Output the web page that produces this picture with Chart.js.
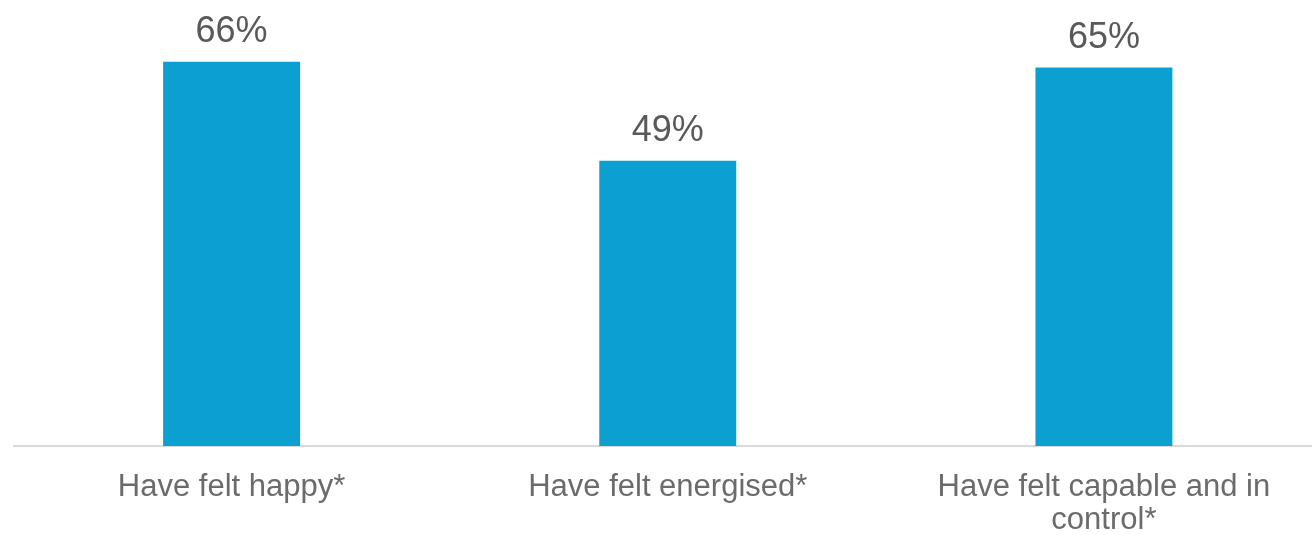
<!DOCTYPE html>
<html lang="en">
<head>
  <meta charset="UTF-8" />
  <title>Felt</title>
  <script src="https://cdn.jsdelivr.net/npm/chart.js"></script>
  <style>
    html, body { margin: 0; padding: 0; overflow: hidden; background: #fff; }
    .box { position: relative; width: 1322px; height: 535px; }
  </style>
</head>
<body>
  <div class="box"><canvas id="myChart"></canvas></div>
  <script>
    const categorias = [['Have felt happy*'], ['Have felt energised*'], ['Have felt capable and in', 'control*']];
    const valores = [66, 49, 65];

    const rotulos = {
      id: 'rotulos',
      afterDatasetsDraw(chart) {
        const c = chart.ctx;
        c.save();
        c.font = '36px "Liberation Sans", Arial, sans-serif';
        c.fillStyle = '#595959';
        c.textAlign = 'center';
        c.textBaseline = 'alphabetic';
        chart.getDatasetMeta(0).data.forEach((bar, i) => {
          c.fillText(valores[i] + '%', bar.x, bar.y - 20);
        });
        c.restore();
      }
    };

    new Chart(document.getElementById('myChart'), {
      type: 'bar',
      data: {
        labels: categorias,
        datasets: [{
          data: valores,
          backgroundColor: '#0ca0d1',
          categoryPercentage: 1,
          barPercentage: 0.314
        }]
      },
      options: {
        responsive: true,
        maintainAspectRatio: false,
        animation: false,
        layout: { padding: { left: 13.5, right: 0, top: 0, bottom: 0 } },
        plugins: { legend: { display: false }, tooltip: { enabled: false } },
        scales: {
          x: {
            grid: { display: false, drawTicks: false },
            border: { color: '#d9d9d9', width: 2 },
            ticks: {
              color: '#6b6b6b',
              padding: 25,
              font: { family: '"Liberation Sans", Arial, sans-serif', size: 31, lineHeight: 1.06 },
              maxRotation: 0
            },
            afterFit(s) { s.height = 89; }
          },
          y: { display: false, min: 0, max: 76.6 }
        }
      },
      plugins: [rotulos]
    });
  </script>
</body>
</html>
